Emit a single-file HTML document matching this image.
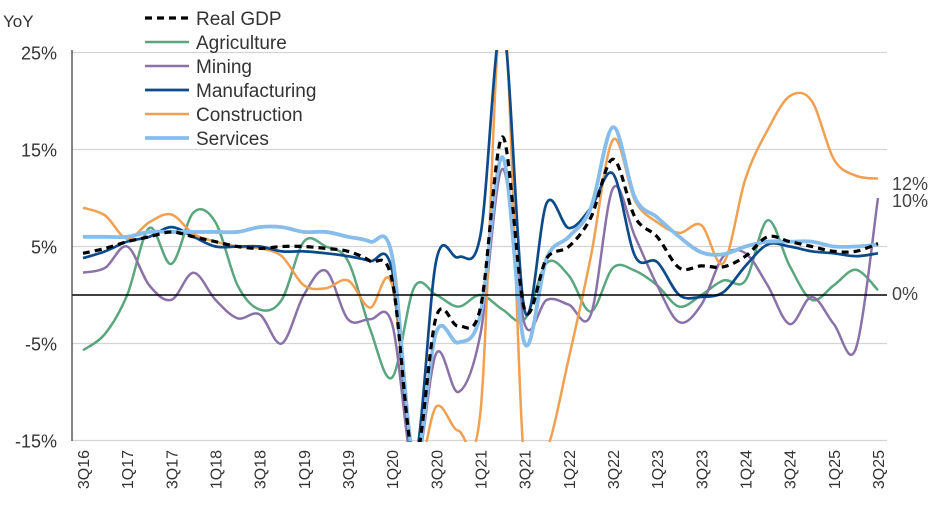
<!DOCTYPE html>
<html><head><meta charset="utf-8"><style>
html,body{margin:0;padding:0;background:#fff;width:936px;height:516px;overflow:hidden;}
svg{display:block;font-family:"Liberation Sans",sans-serif;overflow:hidden;}
</style></head><body>
<svg id="chart" width="936" height="516">
<defs><clipPath id="plot"><rect x="72" y="50" width="815" height="392"/></clipPath></defs>
<g id="grid"></g><g id="series" clip-path="url(#plot)"></g><g id="axes"></g><g id="legend"></g>
</svg>
<script>
const quarters=["3Q16","4Q16","1Q17","2Q17","3Q17","4Q17","1Q18","2Q18","3Q18","4Q18","1Q19","2Q19","3Q19","4Q19","1Q20","2Q20","3Q20","4Q20","1Q21","2Q21","3Q21","4Q21","1Q22","2Q22","3Q22","4Q22","1Q23","2Q23","3Q23","4Q23","1Q24","2Q24","3Q24","4Q24","1Q25","2Q25","3Q25"];
const yTicks=[25,15,5,-5,-15];
const gdp=[4.3,4.8,5.5,6,6.5,6,5.5,5,4.8,5,5,4.8,4.5,3.5,1.5,-17,-2.2,-3.2,-1.3,16.3,-1.5,3.8,5,8,14,8,6,2.8,3,2.9,4,6,5.5,5,4.5,4.5,5.3];
const agriculture=[-5.7,-4,0,6.9,3.2,8.5,7.5,1,-1.5,-0.5,5.5,5,3.5,-3.5,-8.5,0.8,0,-1.2,0,-1.5,-2.5,3.3,2,-1.7,2.8,2.5,1,-1.2,0,1.5,1.5,7.7,3,-0.5,1,2.6,0.5];
const mining=[2.3,2.8,5,1,-0.5,2.3,-0.5,-2.4,-2,-5,0,2.5,-2.5,-2.5,-3,-20,-6,-10,-4,13,-3,-0.5,-1,-2,11,6,1,-2.8,-1,4,4.3,1,-3,-0.2,-3,-5.5,10];
const manufacturing=[3.8,4.5,5.5,6,7,6,5,5,5,4.5,4.5,4.3,4,3.5,2.5,-17,3.6,3.9,6.2,28,-1.6,9.5,6.9,9,12.5,4,3.4,0,-0.2,0.3,3,5.2,5,4.5,4.3,4,4.3];
const construction=[9,8.2,5.8,7.5,8.3,6.3,5.5,5,4.8,4,1,0.7,1.5,-1.3,1,-30,-11.5,-14,-12,35,-30,-16,-6.5,4,16,9.7,7.5,6.4,7.2,3.3,12,17,20.5,20,14,12.3,12];
const services=[6,6,6,6.5,6.5,6.5,6.5,6.5,7,7,6.5,6.5,6,5.5,4,-17,-3.8,-4.9,-2,14.2,-5,3.8,6,9,17.3,10,8,6,4.4,4.2,5,5.5,5.5,5.5,5,5,5.2];
const seriesDefs=[
 {name:"Real GDP",data:gdp,color:"#000",w:3.2,dash:"7,5",key:"real-gdp"},
 {name:"Agriculture",data:agriculture,color:"#5aa67e",w:2.5,key:"agriculture"},
 {name:"Mining",data:mining,color:"#8a72a8",w:2.5,key:"mining"},
 {name:"Manufacturing",data:manufacturing,color:"#0d4a8a",w:2.7,key:"manufacturing"},
 {name:"Construction",data:construction,color:"#f0a050",w:2.5,key:"construction"},
 {name:"Services",data:services,color:"#86bdea",w:3.8,key:"services"}];
const NS="http://www.w3.org/2000/svg";
const X0=83,DX=(878-83)/36;
function xs(i){return X0+DX*i;}
function ys(v){return 295-v*9.7;}
function yc(v){return ys(Math.max(-18,Math.min(30,v)));}
function mk(t,p,a){const e=document.createElementNS(NS,t);for(const k in a)e.setAttribute(k,a[k]);p.appendChild(e);return e;}
const grid=document.getElementById('grid'),axes=document.getElementById('axes'),ser=document.getElementById('series'),leg=document.getElementById('legend');
yTicks.forEach(t=>{
 const l=mk('line',grid,{x1:72,x2:887,y1:ys(t),y2:ys(t),stroke:'#d4d4d4','stroke-width':1.3});
 
 
 const tx=mk('text',axes,{x:57,y:ys(t)+7,'text-anchor':'end','font-size':18,fill:'#333'});
 tx.textContent=t+'%';
 
 
});
const zl=mk('line',axes,{x1:72,x2:887,y1:ys(0),y2:ys(0),stroke:'#000','stroke-width':1.5});


const ya=mk('line',axes,{x1:72,x2:72,y1:50,y2:441,stroke:'#333','stroke-width':1.2});


quarters.forEach((q,i)=>{if(i%2)return;
 const tx=mk('text',axes,{x:0,y:0,'text-anchor':'end','font-size':16,fill:'#333',transform:`translate(${xs(i)+6},450) rotate(-90)`});
 tx.textContent=q;
 
 
});
function pathFor(d){const p=d.map((v,i)=>[xs(i),yc(v)]);let s=`M${p[0][0]},${p[0][1]}`;
 for(let i=0;i<p.length-1;i++){const p0=p[i-1]||p[i],p1=p[i],p2=p[i+1],p3=p[i+2]||p2;
  const c1=[p1[0]+(p2[0]-p0[0])/6,p1[1]+(p2[1]-p0[1])/6],c2=[p2[0]-(p3[0]-p1[0])/6,p2[1]-(p3[1]-p1[1])/6];
  s+=`C${c1[0]},${c1[1]} ${c2[0]},${c2[1]} ${p2[0]},${p2[1]}`;}return s;}
const order=[1,2,4,3,5,0];
order.forEach(k=>{const s=seriesDefs[k];
 const a={d:pathFor(s.data),fill:'none',stroke:s.color,'stroke-width':s.w,'stroke-linejoin':'round'};
 if(s.dash)a['stroke-dasharray']=s.dash;
 const p=mk('path',ser,a);
 
 
});
seriesDefs.forEach((s,i)=>{const y=18+i*24;
 const g=mk('g',leg,{});
 
 
 const a={x1:145,x2:189,y1:y,y2:y,stroke:s.color,'stroke-width':s.w};
 if(s.dash)a['stroke-dasharray']=s.dash;
 mk('line',g,a);
 const t=mk('text',g,{x:196,y:y+7,'font-size':19,fill:'#333'});t.textContent=s.name;
});
const yl=mk('text',axes,{x:3,y:27,'font-size':17,fill:'#333'});yl.textContent='YoY';


[["12%",190],["10%",207],["0%",300]].forEach(([t,y])=>{
 const e=mk('text',axes,{x:892,y:y,'font-size':18,fill:'#444'});e.textContent=t;
 
 
});
</script>
</body></html>
